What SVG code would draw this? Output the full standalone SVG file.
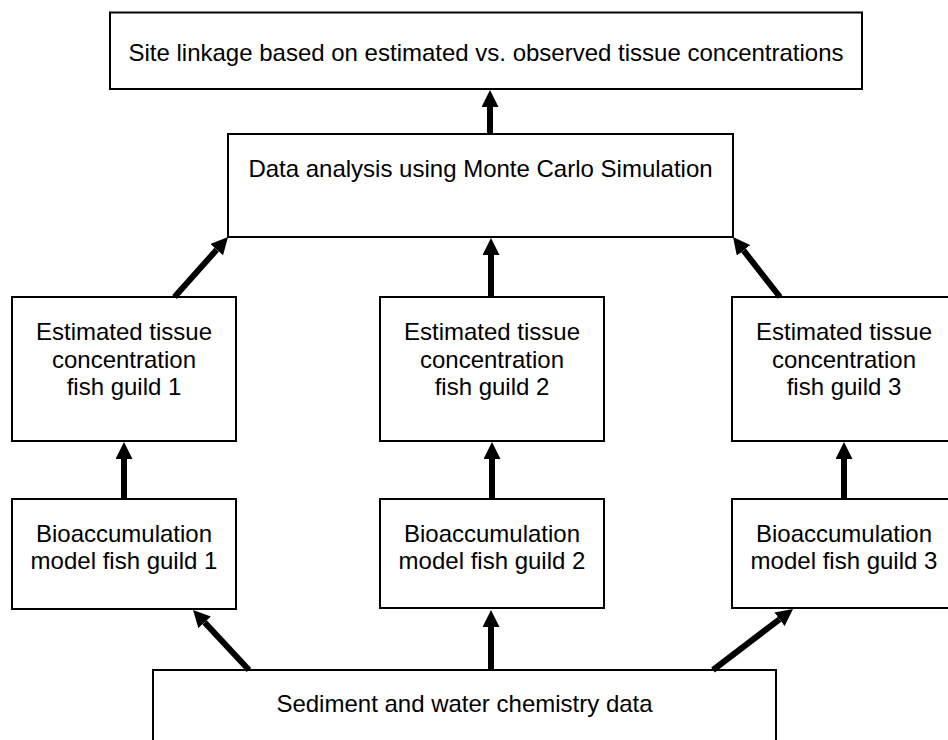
<svg xmlns="http://www.w3.org/2000/svg" width="948" height="740" viewBox="0 0 948 740">
  <style>
    .box { fill: #ffffff; stroke: #000000; stroke-width: 2; }
    .lbl { font-family: "Liberation Sans", Arial, sans-serif; font-size: 24px; fill: #000000; text-anchor: middle; }
    .conn { stroke: #000000; stroke-width: 6; fill: none; marker-end: url(#head); }
  </style>
  <defs>
    <marker id="head" markerUnits="userSpaceOnUse" markerWidth="17" markerHeight="17" viewBox="0 0 17 17" refX="0" refY="8.5" orient="auto">
      <path d="M0,0 L17,8.5 L0,17 z" fill="#000000"/>
    </marker>
  </defs>

  <rect width="948" height="740" fill="#ffffff"/>

  <!-- nodes -->
  <g id="site-linkage">
    <rect class="box" x="110" y="12.5" width="752" height="76.5"/>
    <text class="lbl" x="486" y="61">Site linkage based on estimated vs. observed tissue concentrations</text>
  </g>
  <g id="monte-carlo">
    <rect class="box" x="228" y="134" width="505" height="103"/>
    <text class="lbl" x="480.5" y="177">Data analysis using Monte Carlo Simulation</text>
  </g>
  <g id="tissue-1">
    <rect class="box" x="12" y="297" width="224" height="144"/>
    <text class="lbl" x="124" y="340">Estimated tissue</text>
    <text class="lbl" x="124" y="368">concentration</text>
    <text class="lbl" x="124" y="395">fish guild 1</text>
  </g>
  <g id="tissue-2">
    <rect class="box" x="380" y="297" width="224" height="144"/>
    <text class="lbl" x="492" y="340">Estimated tissue</text>
    <text class="lbl" x="492" y="368">concentration</text>
    <text class="lbl" x="492" y="395">fish guild 2</text>
  </g>
  <g id="tissue-3">
    <rect class="box" x="732" y="297" width="224" height="144"/>
    <text class="lbl" x="844" y="340">Estimated tissue</text>
    <text class="lbl" x="844" y="368">concentration</text>
    <text class="lbl" x="844" y="395">fish guild 3</text>
  </g>
  <g id="bioaccum-1">
    <rect class="box" x="12" y="499" width="224" height="110"/>
    <text class="lbl" x="124" y="542">Bioaccumulation</text>
    <text class="lbl" x="124" y="569">model fish guild 1</text>
  </g>
  <g id="bioaccum-2">
    <rect class="box" x="380" y="499" width="224" height="109"/>
    <text class="lbl" x="492" y="542">Bioaccumulation</text>
    <text class="lbl" x="492" y="569">model fish guild 2</text>
  </g>
  <g id="bioaccum-3">
    <rect class="box" x="732" y="499" width="224" height="109"/>
    <text class="lbl" x="844" y="542">Bioaccumulation</text>
    <text class="lbl" x="844" y="569">model fish guild 3</text>
  </g>
  <g id="chemistry-data">
    <rect class="box" x="153" y="670" width="623" height="90"/>
    <text class="lbl" x="464.5" y="712">Sediment and water chemistry data</text>
  </g>

  <!-- connectors -->
  <g id="connectors">
    <line class="conn" x1="490" y1="134" x2="490" y2="107"/>
    <line class="conn" x1="174.5" y1="297" x2="216.7" y2="249.7"/>
    <line class="conn" x1="491" y1="297" x2="491" y2="255"/>
    <line class="conn" x1="780" y1="297" x2="743.5" y2="250.4"/>
    <line class="conn" x1="124" y1="499" x2="124" y2="459"/>
    <line class="conn" x1="492" y1="499" x2="492" y2="459"/>
    <line class="conn" x1="844" y1="499" x2="844" y2="459"/>
    <line class="conn" x1="249" y1="670" x2="204.6" y2="622.4"/>
    <line class="conn" x1="491" y1="670" x2="491" y2="627"/>
    <line class="conn" x1="713" y1="670" x2="779.5" y2="619.3"/>
  </g>
</svg>
